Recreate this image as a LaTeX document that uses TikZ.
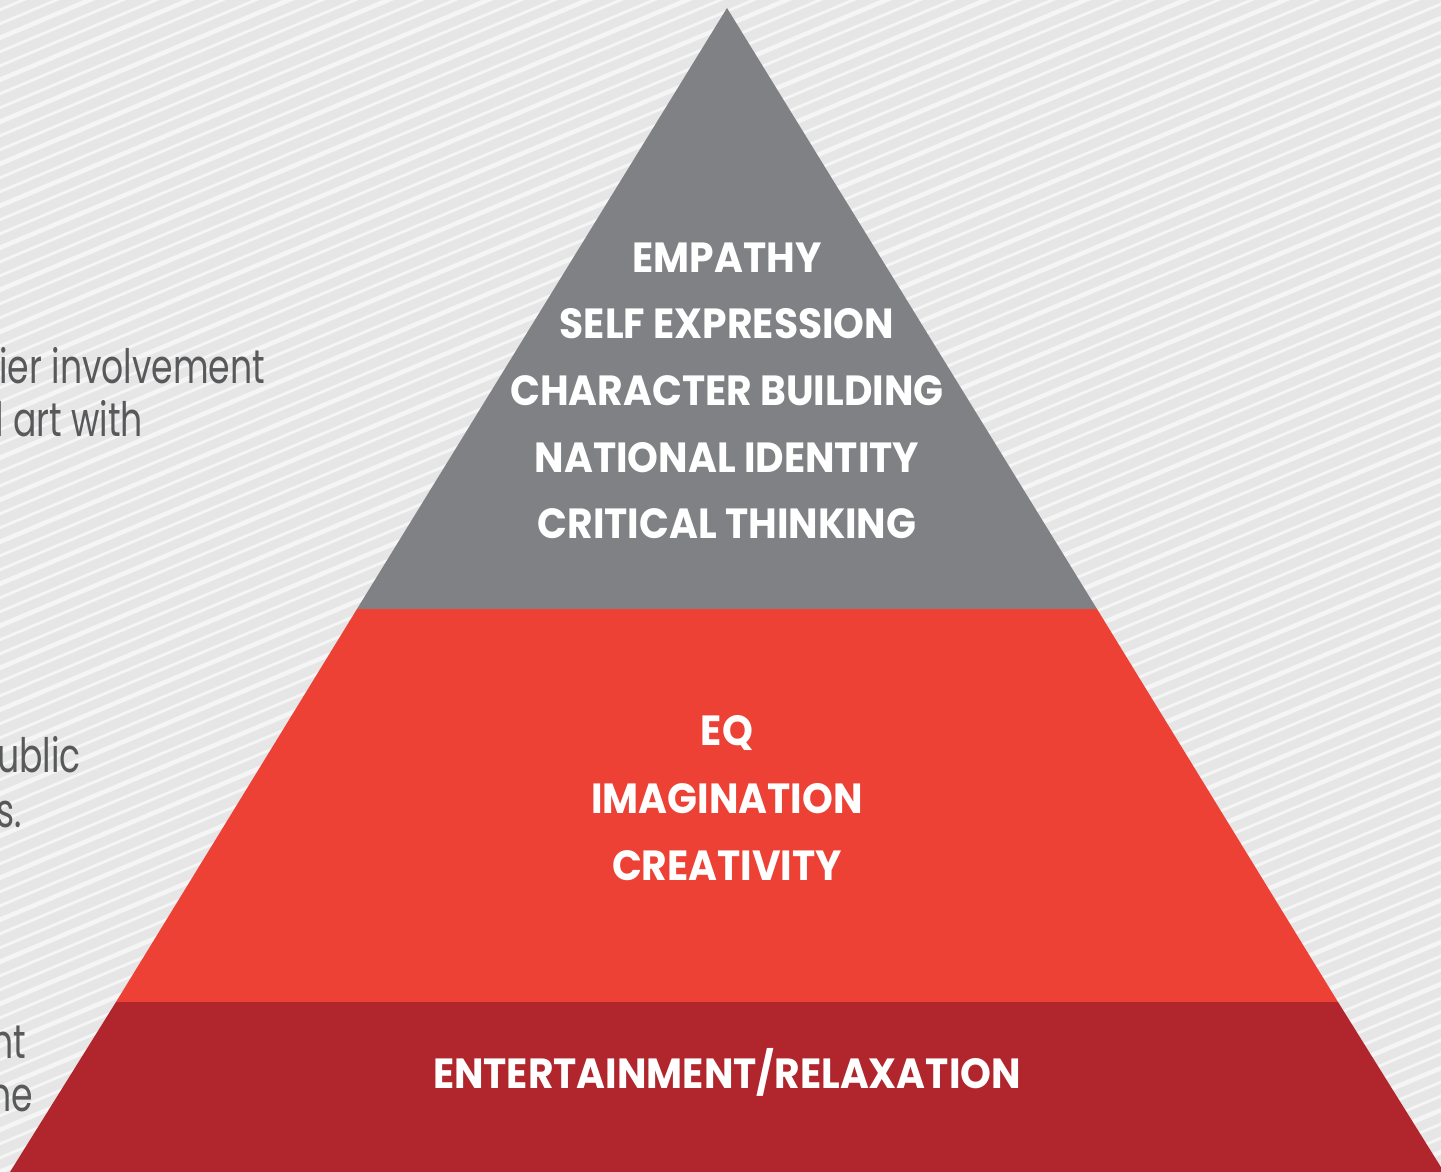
\documentclass[tikz,border=0pt]{standalone}
\usepackage{fontspec}
\usetikzlibrary{positioning}
\newfontfamily\headfont[FakeStretch=0.93]{Poppins Bold}
\newfontfamily\bodyfont[FakeStretch=0.73]{Poppins}
\definecolor{paper}{RGB}{230,230,230}
\definecolor{stripe}{RGB}{245,245,245}
\definecolor{grey}{RGB}{128,129,132}
\definecolor{red}{RGB}{238,65,54}
\definecolor{darkred}{RGB}{177,38,45}
\definecolor{ink}{RGB}{88,89,91}

\begin{document}
\begin{tikzpicture}[x=0.02cm, y=-0.02cm,
    tier_text/.style={
        text=white,
        font=\headfont\fontsize{24}{24}\selectfont,
        inner sep=0pt,
        anchor=center,
        },
    side_text/.style={
        text=ink,
        font=\bodyfont\fontsize{27}{27}\selectfont,
        inner sep=0pt,
        anchor=base west,
        },
    ]
    \useasboundingbox (0,0) rectangle (1441,1172);
    \clip (0,0) rectangle (1441,1172);
    \fill[paper] (0,0) rectangle (1441,1172);

    % diagonal stripes
    \foreach \k in {0,...,135} {
        \pgfmathsetmacro{\w}{mod(\k,3)==0 ? 2.6 : 1.6}
        \draw[stripe, line width=\w pt] (-10,{\k*14}) -- (1460,{\k*14-620});
    }

    % side text, cut at the page edge
    \node[side_text] (s1) at (-1,384) {ier involvement};
    \node[side_text] (s2) at (-5,437) {l art with};
    \node[side_text] (s3) at (-3,772) {ublic};
    \node[side_text] (s4) at (-4,827) {s.};
    \node[side_text] (s5) at (-9,1058) {nt};
    \node[side_text] (s6) at (-11,1111) {ne};

    % pyramid tiers
    \coordinate (apex) at (727,8);
    \coordinate (g_l) at (357,609);
    \coordinate (g_r) at (1097,609);
    \coordinate (r_l) at (116,1002);
    \coordinate (r_r) at (1338,1002);
    \coordinate (b_l) at (5,1180);
    \coordinate (b_r) at (1449,1180);
    \fill[grey] (apex) -- (g_r) -- (g_l) -- cycle;
    \fill[red] (g_l) -- (g_r) -- (r_r) -- (r_l) -- cycle;
    \fill[darkred] (r_l) -- (r_r) -- (b_r) -- (b_l) -- cycle;

    \node[tier_text] (t1) at (727,258) {EMPATHY};
    \node[tier_text] (t2) at (727,324) {SELF EXPRESSION};
    \node[tier_text] (t3) at (727,391) {CHARACTER BUILDING};
    \node[tier_text] (t4) at (727,458) {NATIONAL IDENTITY};
    \node[tier_text] (t5) at (727,524) {CRITICAL THINKING};

    \node[tier_text] (m1) at (727,733) {EQ};
    \node[tier_text] (m2) at (727,799) {IMAGINATION};
    \node[tier_text] (m3) at (727,866) {CREATIVITY};

    \node[tier_text] (b1) at (727,1072) {ENTERTAINMENT/RELAXATION};

\end{tikzpicture}
\end{document}
